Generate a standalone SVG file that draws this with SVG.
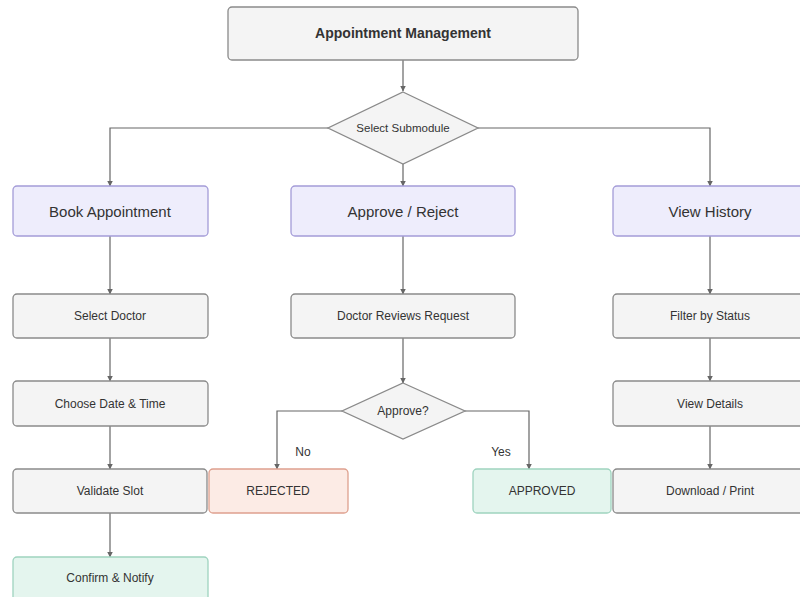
<svg xmlns="http://www.w3.org/2000/svg" width="800" height="597" viewBox="0 0 800 597">
<defs>
<style>
.g{fill:#f4f4f4;stroke:#8a8a8a;stroke-width:1.3}
.p{fill:#eeedfc;stroke:#a49cd8;stroke-width:1.3}
.r{fill:#fcebe5;stroke:#dea08e;stroke-width:1.3}
.a{fill:#e4f5ee;stroke:#9ed3bf;stroke-width:1.3}
text{font-family:"Liberation Sans",Arial,sans-serif;fill:#333;text-anchor:middle;dominant-baseline:central}
.t{font-size:12px}
.b{font-size:15px}
.h{font-size:14px;font-weight:bold}
.s{font-size:11.5px}
.c{fill:none;stroke:#666;stroke-width:1.2;marker-end:url(#ar)}
</style>
<marker id="ar" viewBox="0 0 6 6" refX="5.5" refY="3" markerWidth="6" markerHeight="6" orient="auto" markerUnits="userSpaceOnUse">
<path d="M0,0 L6,3 L0,6 z" fill="#666"/>
</marker>
</defs>
<rect width="800" height="597" fill="#ffffff"/>
<g id="connectors">
<path class="c" d="M403,60 V91"/>
<path class="c" d="M328,128 H110 V186"/>
<path class="c" d="M403,164 V186"/>
<path class="c" d="M478,128 H710 V186"/>
<path class="c" d="M110,236 V294"/>
<path class="c" d="M110,338 V381"/>
<path class="c" d="M110,426 V469"/>
<path class="c" d="M110,513 V557"/>
<path class="c" d="M403,236 V294"/>
<path class="c" d="M403,338 V383"/>
<path class="c" d="M342,411 H277 V469"/>
<path class="c" d="M465,411 H529 V469"/>
<path class="c" d="M710,236 V294"/>
<path class="c" d="M710,338 V381"/>
<path class="c" d="M710,426 V469"/>
<text x="303" y="452" class="t">No</text>
<text x="501" y="452" class="t">Yes</text>
</g>
<g id="n-main"><rect class="g" x="228" y="7" width="350" height="53" rx="4"/><text x="403" y="33" class="h">Appointment Management</text></g>
<g id="n-select"><polygon class="g" points="403,92 478,128 403,164 328,128"/><text x="403" y="128" class="s">Select Submodule</text></g>
<g id="n-book"><rect class="p" x="13" y="186" width="195" height="50" rx="4"/><text x="110" y="211" class="b">Book Appointment</text></g>
<g id="n-approve"><rect class="p" x="291" y="186" width="224" height="50" rx="4"/><text x="403" y="211" class="b">Approve / Reject</text></g>
<g id="n-history"><rect class="p" x="613" y="186" width="195" height="50" rx="4"/><text x="710" y="211" class="b">View History</text></g>
<g id="n-doctor"><rect class="g" x="13" y="294" width="195" height="44" rx="4"/><text x="110" y="316" class="t">Select Doctor</text></g>
<g id="n-date"><rect class="g" x="13" y="381" width="195" height="45" rx="4"/><text x="110" y="404" class="t">Choose Date &amp; Time</text></g>
<g id="n-validate"><rect class="g" x="13" y="469" width="194" height="44" rx="4"/><text x="110" y="491" class="t">Validate Slot</text></g>
<g id="n-confirm"><rect class="a" x="13" y="557" width="195" height="50" rx="4"/><text x="110" y="578" class="t">Confirm &amp; Notify</text></g>
<g id="n-review"><rect class="g" x="291" y="294" width="224" height="44" rx="4"/><text x="403" y="316" class="t">Doctor Reviews Request</text></g>
<g id="n-approveq"><polygon class="g" points="403,383 465,411 403,439 342,411"/><text x="403" y="411" class="t">Approve?</text></g>
<g id="n-rejected"><rect class="r" x="209" y="469" width="139" height="44" rx="4"/><text x="278" y="491" class="t">REJECTED</text></g>
<g id="n-approved"><rect class="a" x="473" y="469" width="138" height="44" rx="4"/><text x="542" y="491" class="t">APPROVED</text></g>
<g id="n-filter"><rect class="g" x="613" y="294" width="195" height="44" rx="4"/><text x="710" y="316" class="t">Filter by Status</text></g>
<g id="n-details"><rect class="g" x="613" y="381" width="195" height="45" rx="4"/><text x="710" y="404" class="t">View Details</text></g>
<g id="n-download"><rect class="g" x="613" y="469" width="195" height="44" rx="4"/><text x="710" y="491" class="t">Download / Print</text></g>
</svg>
